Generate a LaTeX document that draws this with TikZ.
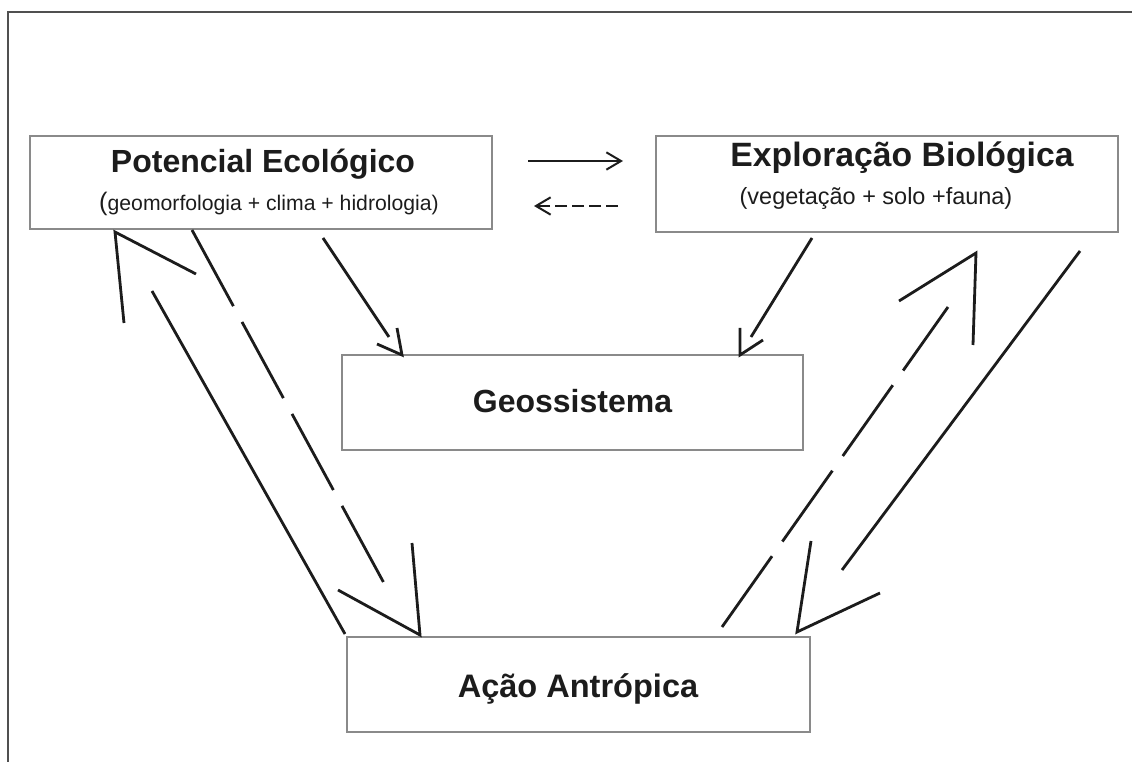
\documentclass[tikz,border=0pt]{standalone}
\usepackage{fontspec}
\setmainfont{Liberation Sans}
\usetikzlibrary{arrows.meta, positioning}
\definecolor{frameGrey}{HTML}{505050}
\definecolor{boxGrey}{HTML}{8A8A8A}
\definecolor{ink}{HTML}{1C1C1C}
\tikzset{
  framel/.style   = {frameGrey, line width=1.1pt},
  box/.style      = {draw=boxGrey, line width=1.1pt, inner sep=0pt},
  ttl/.style      = {font=\bfseries, ink, inner sep=0pt, anchor=base},
  sub/.style      = {ink, inner sep=0pt, anchor=base},
  shaft/.style    = {ink, line width=2.1pt},
  longdash/.style = {shaft, dash pattern=on 65pt off 13.5pt},
  vhead/.style    = {ink, line width=2.1pt, line join=miter, miter limit=20},
  harrow/.style   = {ink, line width=1.5pt, -{Straight Barb[length=11pt, width=13pt]}},
}
\newcommand{\fsz}[2]{{\fontsize{#1}{#1}\selectfont #2}}

\begin{document}
\begin{tikzpicture}[x=0.75pt, y=-0.75pt]
  \useasboundingbox (0,0) rectangle (1132,762);
  % page frame
  \draw[framel] (8,762) -- (8,12) -- (1132,12);
  % boxes
  \node[box, minimum width=346.5pt, minimum height=69.75pt] (pot)  at (261,182.5) {};
  \node[box, minimum width=346.5pt, minimum height=72pt]    (expl) at (887,184) {};
  \node[box, minimum width=345.75pt, minimum height=71.25pt] (geo) at (572.5,402.5) {};
  \node[box, minimum width=347.25pt, minimum height=71.25pt] (acao) at (578.5,684.5) {};
  % texts
  \node[ttl] (potT)  at (263,173) {\fsz{24pt}{Potencial Ecológico}};
  \node[sub] (potS)  at (269,211) {\fsz{19pt}{(}\fsz{15.9pt}{geomorfologia + clima + hidrologia)}};
  \node[ttl] (explT) at (902,167) {\fsz{25.3pt}{Exploração Biológica}};
  \node[sub] (explS) at (876,205) {\fsz{17.6pt}{(vegetação + solo +fauna)}};
  \node[ttl] (geoT)  at (572.5,413) {\fsz{24pt}{Geossistema}};
  \node[ttl] (acaoT) at (578,697) {\fsz{24.4pt}{Ação Antrópica}};
  % ends of the connectors
  \coordinate (r1) at (528,161);  \coordinate (r2) at (623,161);
  \coordinate (l1) at (618,206);  \coordinate (l2) at (534,206);
  \coordinate (aFrom) at (345,634); \coordinate (aTo) at (152,291);
  \coordinate (aTip) at (115,232);  \coordinate (aW1) at (124,323); \coordinate (aW2) at (196,274);
  \coordinate (bFrom) at (192,230); \coordinate (bTo) at (385,585);
  \coordinate (bTip) at (420,635);  \coordinate (bW1) at (338,590); \coordinate (bW2) at (412,543);
  \coordinate (cFrom) at (323,238); \coordinate (cTo) at (389,337);
  \coordinate (cTip) at (402,355);  \coordinate (cW1) at (377,344); \coordinate (cW2) at (397,328);
  \coordinate (dFrom) at (812,238); \coordinate (dTo) at (751,337);
  \coordinate (dTip) at (740,355);  \coordinate (dW1) at (740,328); \coordinate (dW2) at (763,340);
  \coordinate (eFrom) at (722,627); \coordinate (eTo) at (948,307);
  \coordinate (eTip) at (976,253);  \coordinate (eW1) at (899,301); \coordinate (eW2) at (973,345);
  \coordinate (fFrom) at (1080,251); \coordinate (fTo) at (842,570);
  \coordinate (fTip) at (797,632);  \coordinate (fW1) at (811,541); \coordinate (fW2) at (880,593);
  % between the top boxes
  \draw[harrow] (r1) -- (r2);
  \draw[harrow, dash pattern=on 9pt off 3.75pt] (l1) -- (l2);
  % into Geossistema
  \draw[shaft] (cFrom) -- (cTo);  \draw[vhead] (cW1) -- (cTip) -- (cW2);
  \draw[shaft] (dFrom) -- (dTo);  \draw[vhead] (dW1) -- (dTip) -- (dW2);
  % left side
  \draw[shaft] (aFrom) -- (aTo);     \draw[vhead] (aW1) -- (aTip) -- (aW2);
  \draw[longdash] (bFrom) -- (bTo);  \draw[vhead] (bW1) -- (bTip) -- (bW2);
  % right side
  \draw[longdash] (eFrom) -- (eTo);  \draw[vhead] (eW1) -- (eTip) -- (eW2);
  \draw[shaft] (fFrom) -- (fTo);     \draw[vhead] (fW1) -- (fTip) -- (fW2);
\end{tikzpicture}
\end{document}
